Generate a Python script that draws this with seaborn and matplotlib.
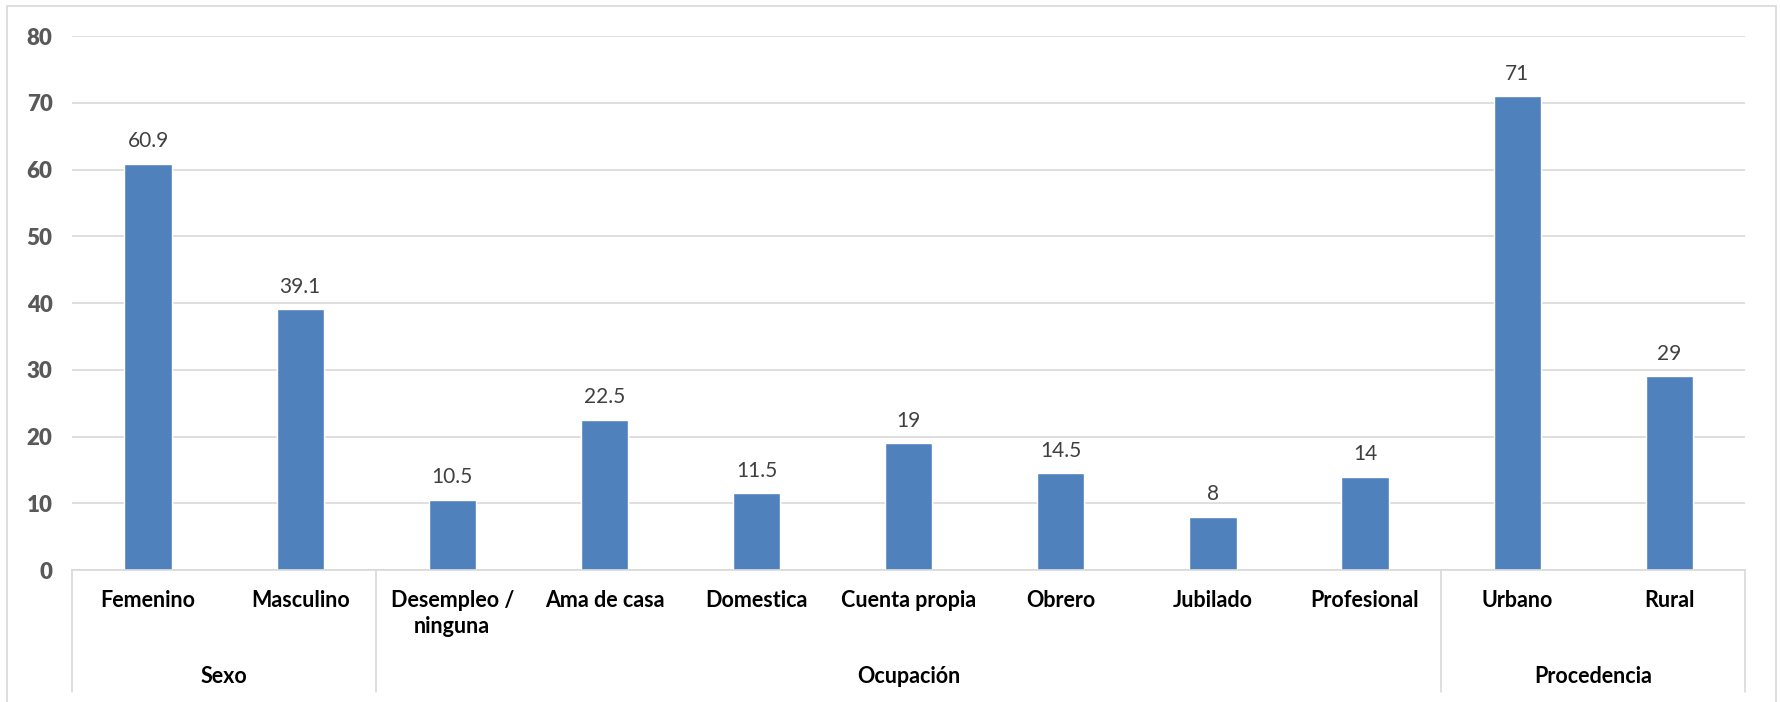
import matplotlib
matplotlib.use("Agg")
import matplotlib.pyplot as plt
import matplotlib.transforms as mtransforms
from matplotlib.patches import Rectangle
import seaborn as sns
import pandas as pd

categories = ["Femenino", "Masculino", "Desempleo /\nninguna", "Ama de casa",
              "Domestica", "Cuenta propia", "Obrero", "Jubilado", "Profesional",
              "Urbano", "Rural"]
values = [60.9, 39.1, 10.5, 22.5, 11.5, 19, 14.5, 8, 14, 71, 29]
groups = ["Sexo", "Ocupación", "Procedencia"]
group_sizes = [2, 7, 2]
y_ticks = [0, 10, 20, 30, 40, 50, 60, 70, 80]

sns.set_theme(style="white")
plt.rcParams["font.family"] = ["Lato", "DejaVu Sans"]

df = pd.DataFrame({"categoria": categories, "porcentaje": values})

fig = plt.figure(figsize=(17.81, 7.02), dpi=100)
ax = fig.add_axes([0.0404, 0.188, 0.9396, 0.7607])

sns.barplot(data=df, x="categoria", y="porcentaje", color="#4F81BD",
            saturation=1, width=0.31, ax=ax)

ax.set_ylim(0, 80)
ax.set_xlim(-0.5, len(categories) - 0.5)
ax.set_yticks(y_ticks)
ax.set_yticklabels([str(t) for t in y_ticks])
for lbl in ax.get_yticklabels():
    lbl.set_fontsize(16)
    lbl.set_fontweight("heavy")
    lbl.set_color("#595959")
ax.yaxis.grid(True, color="#D9D9D9", linewidth=1.2)
ax.set_axisbelow(True)
for side in ["left", "right", "top"]:
    ax.spines[side].set_visible(False)
ax.spines["bottom"].set_color("#D9D9D9")
ax.spines["bottom"].set_linewidth(1.2)
ax.tick_params(axis="y", length=0, pad=14)
ax.tick_params(axis="x", length=0)
ax.set_xlabel("")
ax.set_ylabel("")

# category labels (first level of the axis)
ax.set_xticks(range(len(categories)))
ax.set_xticklabels([])
for i, cat in enumerate(categories):
    ax.text(i, -3.0, cat, ha="center", va="top", fontsize=15.5,
            fontweight="bold", color="#000000", linespacing=1.3,
            transform=ax.transData, clip_on=False)

# value labels above bars
ax.bar_label(ax.containers[0], labels=[f"{v:g}" for v in values],
             padding=9, fontsize=15, color="#404040")

# group labels and separators (second level of the axis)
trans = mtransforms.blended_transform_factory(ax.transData, ax.transAxes)
start = -0.5
bounds = [start]
for name, size in zip(groups, group_sizes):
    end = start + size
    ax.text((start + end) / 2, -0.200, name, ha="center", va="center",
            fontsize=15.5, fontweight="bold", color="#000000",
            transform=trans, clip_on=False)
    bounds.append(end)
    start = end
for b in bounds:
    ax.plot([b, b], [0, -0.228], color="#D9D9D9", linewidth=1.2,
            transform=trans, clip_on=False)

# light frame around the chart area
fig.patches.append(Rectangle((7 / 1781, -0.05), 1769 / 1781, 1.05 - 6 / 702,
                             transform=fig.transFigure, fill=False,
                             edgecolor="#D9D9D9", linewidth=1.2))

fig.savefig("out.png", dpi=100, facecolor="white")
